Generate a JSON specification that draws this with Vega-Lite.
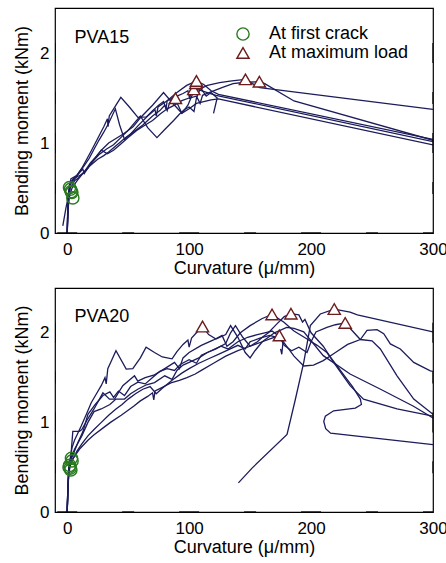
{
"$schema": "https://vega.github.io/schema/vega-lite/v6.json",
"padding": {"left": 12, "top": 7, "right": 0, "bottom": 0},
"spacing": 8,
"config": {
  "font": "Liberation Sans",
  "view": {"stroke": "black", "strokeWidth": 1.2},
  "axis": {"domain": false, "grid": false, "ticks": false, "labelFont": "Liberation Sans", "labelFontSize": 17, "labelColor": "black", "titleFont": "Liberation Sans", "titleFontSize": 18, "titleFontWeight": "normal", "titleColor": "black", "labelFlush": false, "labelOverlap": false}
},
"datasets": {
"tx": [{"v":0,"k":"M"},{"v":50,"k":"m"},{"v":100,"k":"M"},{"v":150,"k":"m"},{"v":200,"k":"M"},{"v":250,"k":"m"},{"v":300,"k":"M"}],
"ty": [{"v":0.5,"k":"m"},{"v":1,"k":"M"},{"v":1.5,"k":"m"},{"v":2,"k":"M"}],
"l15": [
{"s":1,"i":0,"x":0,"y":0},{"s":1,"i":1,"x":0.5,"y":0.15},{"s":1,"i":2,"x":1,"y":0.3},{"s":1,"i":3,"x":2,"y":0.42},{"s":1,"i":4,"x":4,"y":0.5},{"s":1,"i":5,"x":8,"y":0.58},{"s":1,"i":6,"x":12,"y":0.65},{"s":1,"i":7,"x":18,"y":0.74},{"s":1,"i":8,"x":25,"y":0.82},{"s":1,"i":9,"x":30,"y":0.86},{"s":1,"i":10,"x":34,"y":0.9},{"s":1,"i":11,"x":40,"y":0.97},{"s":1,"i":12,"x":48,"y":1.06},{"s":1,"i":13,"x":56,"y":1.14},{"s":1,"i":14,"x":62,"y":1.2},{"s":1,"i":15,"x":70,"y":1.3},{"s":1,"i":16,"x":76,"y":1.36},{"s":1,"i":17,"x":80,"y":1.42},{"s":1,"i":18,"x":82,"y":1.36},{"s":1,"i":19,"x":84,"y":1.45},{"s":1,"i":20,"x":88,"y":1.497},{"s":1,"i":21,"x":91,"y":1.42},{"s":1,"i":22,"x":94,"y":1.33},{"s":1,"i":23,"x":100,"y":1.38},{"s":1,"i":24,"x":106,"y":1.44},{"s":1,"i":25,"x":112,"y":1.46},{"s":1,"i":26,"x":118,"y":1.48},{"s":1,"i":27,"x":124,"y":1.49},{"s":1,"i":28,"x":300,"y":0.978},
{"s":2,"i":0,"x":0,"y":0},{"s":2,"i":1,"x":0.4,"y":0.2},{"s":2,"i":2,"x":1,"y":0.4},{"s":2,"i":3,"x":2,"y":0.52},{"s":2,"i":4,"x":4,"y":0.58},{"s":2,"i":5,"x":8,"y":0.64},{"s":2,"i":6,"x":12,"y":0.72},{"s":2,"i":7,"x":16,"y":0.82},{"s":2,"i":8,"x":20,"y":0.92},{"s":2,"i":9,"x":25,"y":1.05},{"s":2,"i":10,"x":30,"y":1.18},{"s":2,"i":11,"x":33,"y":1.27},{"s":2,"i":12,"x":33.5,"y":1.18},{"s":2,"i":13,"x":34.5,"y":1.3},{"s":2,"i":14,"x":40,"y":1.42},{"s":2,"i":15,"x":44,"y":1.507},{"s":2,"i":16,"x":51,"y":1.4},{"s":2,"i":17,"x":58,"y":1.285},{"s":2,"i":18,"x":65,"y":1.29},{"s":2,"i":19,"x":70,"y":1.36},{"s":2,"i":20,"x":75,"y":1.42},{"s":2,"i":21,"x":79,"y":1.46},{"s":2,"i":22,"x":81,"y":1.38},{"s":2,"i":23,"x":82,"y":1.47},{"s":2,"i":24,"x":90,"y":1.52},{"s":2,"i":25,"x":95,"y":1.55},{"s":2,"i":26,"x":99,"y":1.58},{"s":2,"i":27,"x":100.5,"y":1.49},{"s":2,"i":28,"x":101.5,"y":1.57},{"s":2,"i":29,"x":103.8,"y":1.596},{"s":2,"i":30,"x":108,"y":1.59},{"s":2,"i":31,"x":115,"y":1.56},{"s":2,"i":32,"x":122,"y":1.53},{"s":2,"i":33,"x":300,"y":1.015},
{"s":3,"i":0,"x":0,"y":0},{"s":3,"i":1,"x":0.5,"y":0.25},{"s":3,"i":2,"x":1.2,"y":0.45},{"s":3,"i":3,"x":3,"y":0.56},{"s":3,"i":4,"x":6,"y":0.6},{"s":3,"i":5,"x":10,"y":0.68},{"s":3,"i":6,"x":14,"y":0.75},{"s":3,"i":7,"x":18,"y":0.83},{"s":3,"i":8,"x":22,"y":0.93},{"s":3,"i":9,"x":26,"y":1.03},{"s":3,"i":10,"x":30,"y":1.12},{"s":3,"i":11,"x":34,"y":1.22},{"s":3,"i":12,"x":39.5,"y":1.38},{"s":3,"i":13,"x":43,"y":1.2},{"s":3,"i":14,"x":47,"y":1.04},{"s":3,"i":15,"x":52,"y":1.1},{"s":3,"i":16,"x":58,"y":1.19},{"s":3,"i":17,"x":66,"y":1.3},{"s":3,"i":18,"x":72,"y":1.37},{"s":3,"i":19,"x":73,"y":1.3},{"s":3,"i":20,"x":74.5,"y":1.4},{"s":3,"i":21,"x":82,"y":1.47},{"s":3,"i":22,"x":90,"y":1.56},{"s":3,"i":23,"x":98,"y":1.64},{"s":3,"i":24,"x":106,"y":1.69},{"s":3,"i":25,"x":112,"y":1.65},{"s":3,"i":26,"x":118,"y":1.58},{"s":3,"i":27,"x":124,"y":1.54},{"s":3,"i":28,"x":300,"y":1.04},
{"s":4,"i":0,"x":0,"y":0},{"s":4,"i":1,"x":0.3,"y":0.2},{"s":4,"i":2,"x":0.8,"y":0.4},{"s":4,"i":3,"x":2,"y":0.55},{"s":4,"i":4,"x":5,"y":0.6},{"s":4,"i":5,"x":9,"y":0.63},{"s":4,"i":6,"x":13,"y":0.66},{"s":4,"i":7,"x":17,"y":0.72},{"s":4,"i":8,"x":22,"y":0.82},{"s":4,"i":9,"x":28,"y":0.92},{"s":4,"i":10,"x":34,"y":1.0},{"s":4,"i":11,"x":40,"y":1.05},{"s":4,"i":12,"x":46,"y":1.1},{"s":4,"i":13,"x":54,"y":1.18},{"s":4,"i":14,"x":60,"y":1.28},{"s":4,"i":15,"x":70,"y":1.42},{"s":4,"i":16,"x":79,"y":1.56},{"s":4,"i":17,"x":86,"y":1.45},{"s":4,"i":18,"x":94,"y":1.33},{"s":4,"i":19,"x":99,"y":1.42},{"s":4,"i":20,"x":103,"y":1.55},{"s":4,"i":21,"x":105.5,"y":1.665},{"s":4,"i":22,"x":110,"y":1.6},{"s":4,"i":23,"x":114,"y":1.52},{"s":4,"i":24,"x":118,"y":1.56},{"s":4,"i":25,"x":123,"y":1.5},{"s":4,"i":26,"x":120,"y":1.33},
{"s":5,"i":0,"x":-3.6,"y":0.08},{"s":5,"i":1,"x":-1,"y":0.28},{"s":5,"i":2,"x":1.9,"y":0.47},{"s":5,"i":3,"x":3,"y":0.6},{"s":5,"i":4,"x":8,"y":0.64},{"s":5,"i":5,"x":12.8,"y":0.71},{"s":5,"i":6,"x":14,"y":0.66},{"s":5,"i":7,"x":16,"y":0.7},{"s":5,"i":8,"x":20,"y":0.78},{"s":5,"i":9,"x":26,"y":0.87},{"s":5,"i":10,"x":32,"y":0.93},{"s":5,"i":11,"x":38,"y":0.98},{"s":5,"i":12,"x":44,"y":1.06},{"s":5,"i":13,"x":50,"y":1.14},{"s":5,"i":14,"x":55,"y":1.22},{"s":5,"i":15,"x":60,"y":1.3},{"s":5,"i":16,"x":66,"y":1.17},{"s":5,"i":17,"x":73.6,"y":1.06},{"s":5,"i":18,"x":80,"y":1.15},{"s":5,"i":19,"x":87.3,"y":1.25},{"s":5,"i":20,"x":92,"y":1.32},{"s":5,"i":21,"x":96,"y":1.37},{"s":5,"i":22,"x":100,"y":1.4},{"s":5,"i":23,"x":104,"y":1.35},{"s":5,"i":24,"x":106,"y":1.5},{"s":5,"i":25,"x":109,"y":1.6},{"s":5,"i":26,"x":115,"y":1.64},{"s":5,"i":27,"x":125,"y":1.67},{"s":5,"i":28,"x":135,"y":1.69},{"s":5,"i":29,"x":146.2,"y":1.707},{"s":5,"i":30,"x":152,"y":1.66},{"s":5,"i":31,"x":158,"y":1.615},{"s":5,"i":32,"x":300,"y":1.374},
{"s":6,"i":0,"x":0,"y":0},{"s":6,"i":1,"x":0.5,"y":0.2},{"s":6,"i":2,"x":1,"y":0.38},{"s":6,"i":3,"x":2.5,"y":0.5},{"s":6,"i":4,"x":6,"y":0.58},{"s":6,"i":5,"x":10,"y":0.62},{"s":6,"i":6,"x":14,"y":0.68},{"s":6,"i":7,"x":19,"y":0.78},{"s":6,"i":8,"x":24,"y":0.85},{"s":6,"i":9,"x":28,"y":0.92},{"s":6,"i":10,"x":33,"y":0.88},{"s":6,"i":11,"x":38,"y":0.92},{"s":6,"i":12,"x":44,"y":0.99},{"s":6,"i":13,"x":50,"y":1.06},{"s":6,"i":14,"x":57,"y":1.14},{"s":6,"i":15,"x":64,"y":1.2},{"s":6,"i":16,"x":70,"y":1.25},{"s":6,"i":17,"x":76,"y":1.32},{"s":6,"i":18,"x":82,"y":1.38},{"s":6,"i":19,"x":88,"y":1.42},{"s":6,"i":20,"x":94,"y":1.47},{"s":6,"i":21,"x":100,"y":1.5},{"s":6,"i":22,"x":106,"y":1.52},{"s":6,"i":23,"x":109,"y":1.44},{"s":6,"i":24,"x":111,"y":1.53},{"s":6,"i":25,"x":120,"y":1.58},{"s":6,"i":26,"x":128,"y":1.62},{"s":6,"i":27,"x":136,"y":1.66},{"s":6,"i":28,"x":146,"y":1.675},{"s":6,"i":29,"x":157.6,"y":1.681},{"s":6,"i":30,"x":162,"y":1.66},{"s":6,"i":31,"x":186,"y":1.467},{"s":6,"i":32,"x":300,"y":1.03}
],
"m15": [
{"type":"At first crack","x":1.9,"y":0.505},{"type":"At first crack","x":2.7,"y":0.486},{"type":"At first crack","x":3.3,"y":0.46},{"type":"At first crack","x":3.8,"y":0.45},{"type":"At first crack","x":4.6,"y":0.39},
{"type":"At maximum load","x":88.8,"y":1.497},{"type":"At maximum load","x":103.8,"y":1.596},{"type":"At maximum load","x":105.5,"y":1.665},{"type":"At maximum load","x":106,"y":1.689},{"type":"At maximum load","x":146.2,"y":1.707},{"type":"At maximum load","x":157.6,"y":1.681}
],
"l20": [
{"s":1,"i":0,"x":0,"y":0},{"s":1,"i":1,"x":0.5,"y":0.2},{"s":1,"i":2,"x":1.2,"y":0.45},{"s":1,"i":3,"x":2.5,"y":0.6},{"s":1,"i":4,"x":4,"y":0.72},{"s":1,"i":5,"x":6,"y":0.8},{"s":1,"i":6,"x":11.5,"y":0.96},{"s":1,"i":7,"x":16,"y":1.1},{"s":1,"i":8,"x":19.7,"y":1.22},{"s":1,"i":9,"x":24,"y":1.32},{"s":1,"i":10,"x":27.9,"y":1.41},{"s":1,"i":11,"x":31,"y":1.5},{"s":1,"i":12,"x":32,"y":1.43},{"s":1,"i":13,"x":33.3,"y":1.6},{"s":1,"i":14,"x":36,"y":1.68},{"s":1,"i":15,"x":40,"y":1.8},{"s":1,"i":16,"x":48.4,"y":1.595},{"s":1,"i":17,"x":53.8,"y":1.6},{"s":1,"i":18,"x":60,"y":1.72},{"s":1,"i":19,"x":64.7,"y":1.84},{"s":1,"i":20,"x":71.6,"y":1.78},{"s":1,"i":21,"x":78,"y":1.73},{"s":1,"i":22,"x":86,"y":1.71},{"s":1,"i":23,"x":90,"y":1.79},{"s":1,"i":24,"x":95,"y":1.87},{"s":1,"i":25,"x":99,"y":1.92},{"s":1,"i":26,"x":100,"y":1.84},{"s":1,"i":27,"x":102,"y":1.94},{"s":1,"i":28,"x":106,"y":2.0},{"s":1,"i":29,"x":111,"y":2.07},{"s":1,"i":30,"x":116,"y":1.98},{"s":1,"i":31,"x":122,"y":1.93},{"s":1,"i":32,"x":130,"y":1.98},{"s":1,"i":33,"x":134,"y":2.08},{"s":1,"i":34,"x":140,"y":1.95},{"s":1,"i":35,"x":146,"y":1.78},{"s":1,"i":36,"x":150,"y":1.72},{"s":1,"i":37,"x":154,"y":1.8},{"s":1,"i":38,"x":160,"y":1.9},{"s":1,"i":39,"x":170,"y":2.0},{"s":1,"i":40,"x":180,"y":2.06},{"s":1,"i":41,"x":186,"y":2.05},{"s":1,"i":42,"x":194,"y":2.01},{"s":1,"i":43,"x":210,"y":1.745},{"s":1,"i":44,"x":232,"y":1.54},{"s":1,"i":45,"x":257,"y":1.37},{"s":1,"i":46,"x":284,"y":1.18},{"s":1,"i":47,"x":300,"y":1.05},
{"s":2,"i":0,"x":0,"y":0},{"s":2,"i":1,"x":0.5,"y":0.2},{"s":2,"i":2,"x":1.5,"y":0.5},{"s":2,"i":3,"x":3,"y":0.62},{"s":2,"i":4,"x":4.6,"y":0.9},{"s":2,"i":5,"x":10,"y":0.9},{"s":2,"i":6,"x":12,"y":0.92},{"s":2,"i":7,"x":16,"y":1.02},{"s":2,"i":8,"x":22,"y":1.15},{"s":2,"i":9,"x":29.3,"y":1.33},{"s":2,"i":10,"x":34.7,"y":1.26},{"s":2,"i":11,"x":38.8,"y":1.26},{"s":2,"i":12,"x":45.6,"y":1.41},{"s":2,"i":13,"x":55.2,"y":1.52},{"s":2,"i":14,"x":57.9,"y":1.46},{"s":2,"i":15,"x":64,"y":1.5},{"s":2,"i":16,"x":71.6,"y":1.53},{"s":2,"i":17,"x":80,"y":1.6},{"s":2,"i":18,"x":88,"y":1.67},{"s":2,"i":19,"x":92,"y":1.6},{"s":2,"i":20,"x":95,"y":1.72},{"s":2,"i":21,"x":100,"y":1.78},{"s":2,"i":22,"x":110,"y":1.86},{"s":2,"i":23,"x":120,"y":1.92},{"s":2,"i":24,"x":127,"y":1.97},{"s":2,"i":25,"x":131,"y":1.85},{"s":2,"i":26,"x":136,"y":1.9},{"s":2,"i":27,"x":142,"y":2.0},{"s":2,"i":28,"x":150,"y":2.08},{"s":2,"i":29,"x":160,"y":2.16},{"s":2,"i":30,"x":168,"y":2.205},{"s":2,"i":31,"x":177.5,"y":2.12},{"s":2,"i":32,"x":186,"y":2.02},{"s":2,"i":33,"x":196.7,"y":1.93},{"s":2,"i":34,"x":205,"y":1.86},{"s":2,"i":35,"x":213,"y":1.78},{"s":2,"i":36,"x":221.3,"y":1.63},{"s":2,"i":37,"x":229.5,"y":1.48},{"s":2,"i":38,"x":234,"y":1.4},{"s":2,"i":39,"x":240.4,"y":1.26},{"s":2,"i":40,"x":241.3,"y":1.2},{"s":2,"i":41,"x":236.3,"y":1.16},{"s":2,"i":42,"x":218.5,"y":1.13},{"s":2,"i":43,"x":211.7,"y":1.07},{"s":2,"i":44,"x":210.4,"y":1.01},{"s":2,"i":45,"x":212,"y":0.93},{"s":2,"i":46,"x":216,"y":0.88},{"s":2,"i":47,"x":300,"y":0.753},
{"s":3,"i":0,"x":0,"y":0},{"s":3,"i":1,"x":0.4,"y":0.2},{"s":3,"i":2,"x":1,"y":0.4},{"s":3,"i":3,"x":2,"y":0.5},{"s":3,"i":4,"x":4,"y":0.58},{"s":3,"i":5,"x":6,"y":0.62},{"s":3,"i":6,"x":10,"y":0.7},{"s":3,"i":7,"x":17,"y":0.8},{"s":3,"i":8,"x":21.8,"y":0.86},{"s":3,"i":9,"x":30.6,"y":0.95},{"s":3,"i":10,"x":35.5,"y":1.0},{"s":3,"i":11,"x":44.3,"y":1.08},{"s":3,"i":12,"x":54.5,"y":1.18},{"s":3,"i":13,"x":60,"y":1.24},{"s":3,"i":14,"x":66,"y":1.29},{"s":3,"i":15,"x":70,"y":1.33},{"s":3,"i":16,"x":71,"y":1.25},{"s":3,"i":17,"x":72,"y":1.35},{"s":3,"i":18,"x":76.4,"y":1.38},{"s":3,"i":19,"x":85,"y":1.44},{"s":3,"i":20,"x":92,"y":1.47},{"s":3,"i":21,"x":98.2,"y":1.5},{"s":3,"i":22,"x":105,"y":1.54},{"s":3,"i":23,"x":110,"y":1.58},{"s":3,"i":24,"x":120,"y":1.66},{"s":3,"i":25,"x":130,"y":1.74},{"s":3,"i":26,"x":140,"y":1.8},{"s":3,"i":27,"x":150,"y":1.85},{"s":3,"i":28,"x":160,"y":1.9},{"s":3,"i":29,"x":168,"y":1.94},{"s":3,"i":30,"x":174,"y":1.97},{"s":3,"i":31,"x":177,"y":1.9},{"s":3,"i":32,"x":176,"y":1.76},{"s":3,"i":33,"x":175,"y":1.82},
{"s":4,"i":0,"x":0,"y":0},{"s":4,"i":1,"x":0.5,"y":0.25},{"s":4,"i":2,"x":1.5,"y":0.5},{"s":4,"i":3,"x":3,"y":0.6},{"s":4,"i":4,"x":6,"y":0.7},{"s":4,"i":5,"x":12,"y":0.85},{"s":4,"i":6,"x":17,"y":1.0},{"s":4,"i":7,"x":22,"y":1.12},{"s":4,"i":8,"x":27.9,"y":1.15},{"s":4,"i":9,"x":35,"y":1.2},{"s":4,"i":10,"x":40,"y":1.26},{"s":4,"i":11,"x":47,"y":1.26},{"s":4,"i":12,"x":52,"y":1.32},{"s":4,"i":13,"x":57.9,"y":1.37},{"s":4,"i":14,"x":65,"y":1.42},{"s":4,"i":15,"x":71.6,"y":1.445},{"s":4,"i":16,"x":80,"y":1.52},{"s":4,"i":17,"x":86,"y":1.48},{"s":4,"i":18,"x":90,"y":1.58},{"s":4,"i":19,"x":95,"y":1.64},{"s":4,"i":20,"x":100,"y":1.67},{"s":4,"i":21,"x":108,"y":1.72},{"s":4,"i":22,"x":115,"y":1.78},{"s":4,"i":23,"x":122,"y":1.82},{"s":4,"i":24,"x":130,"y":1.88},{"s":4,"i":25,"x":134,"y":2.0},{"s":4,"i":26,"x":138,"y":2.08},{"s":4,"i":27,"x":144,"y":1.95},{"s":4,"i":28,"x":150,"y":1.85},{"s":4,"i":29,"x":156,"y":1.9},{"s":4,"i":30,"x":160,"y":1.95},{"s":4,"i":31,"x":165,"y":2.0},{"s":4,"i":32,"x":172,"y":2.1},{"s":4,"i":33,"x":178,"y":2.18},{"s":4,"i":34,"x":183.5,"y":2.213},{"s":4,"i":35,"x":190,"y":2.2},{"s":4,"i":36,"x":193,"y":2.12},{"s":4,"i":37,"x":195,"y":2.15},{"s":4,"i":38,"x":200,"y":2.0},{"s":4,"i":39,"x":210,"y":1.85},{"s":4,"i":40,"x":218.5,"y":1.67},{"s":4,"i":41,"x":232,"y":1.41},{"s":4,"i":42,"x":243,"y":1.26},{"s":4,"i":43,"x":270.5,"y":1.15},{"s":4,"i":44,"x":300,"y":1.07},
{"s":5,"i":0,"x":140.4,"y":0.325},{"s":5,"i":1,"x":151.6,"y":0.49},{"s":5,"i":2,"x":180.3,"y":0.865},{"s":5,"i":3,"x":187,"y":1.25},{"s":5,"i":4,"x":194,"y":1.67},{"s":5,"i":5,"x":199.4,"y":2.08},{"s":5,"i":6,"x":207.6,"y":2.21},{"s":5,"i":7,"x":219,"y":2.265},{"s":5,"i":8,"x":232,"y":2.23},{"s":5,"i":9,"x":238,"y":2.2},{"s":5,"i":10,"x":300,"y":2.01},
{"s":6,"i":0,"x":0,"y":0},{"s":6,"i":1,"x":0.5,"y":0.22},{"s":6,"i":2,"x":1.3,"y":0.48},{"s":6,"i":3,"x":3,"y":0.58},{"s":6,"i":4,"x":6,"y":0.68},{"s":6,"i":5,"x":9,"y":0.78},{"s":6,"i":6,"x":13,"y":0.9},{"s":6,"i":7,"x":17,"y":1.09},{"s":6,"i":8,"x":23,"y":1.2},{"s":6,"i":9,"x":29.3,"y":1.3},{"s":6,"i":10,"x":35,"y":1.34},{"s":6,"i":11,"x":38,"y":1.28},{"s":6,"i":12,"x":42,"y":1.35},{"s":6,"i":13,"x":47,"y":1.3},{"s":6,"i":14,"x":52,"y":1.4},{"s":6,"i":15,"x":58,"y":1.45},{"s":6,"i":16,"x":64,"y":1.43},{"s":6,"i":17,"x":70,"y":1.5},{"s":6,"i":18,"x":76,"y":1.57},{"s":6,"i":19,"x":82,"y":1.6},{"s":6,"i":20,"x":88,"y":1.58},{"s":6,"i":21,"x":93,"y":1.65},{"s":6,"i":22,"x":100,"y":1.7},{"s":6,"i":23,"x":106,"y":1.66},{"s":6,"i":24,"x":110,"y":1.75},{"s":6,"i":25,"x":118,"y":1.8},{"s":6,"i":26,"x":126,"y":1.85},{"s":6,"i":27,"x":132,"y":1.82},{"s":6,"i":28,"x":140,"y":1.9},{"s":6,"i":29,"x":148,"y":1.95},{"s":6,"i":30,"x":156,"y":1.98},{"s":6,"i":31,"x":162,"y":2.0},{"s":6,"i":32,"x":168,"y":2.02},{"s":6,"i":33,"x":174,"y":1.96},{"s":6,"i":34,"x":178,"y":1.86},{"s":6,"i":35,"x":184,"y":1.8},{"s":6,"i":36,"x":190,"y":1.84},{"s":6,"i":37,"x":196.7,"y":1.78},{"s":6,"i":38,"x":200,"y":1.9},{"s":6,"i":39,"x":204,"y":2.01},{"s":6,"i":40,"x":213,"y":2.06},{"s":6,"i":41,"x":220,"y":2.09},{"s":6,"i":42,"x":228,"y":2.11},{"s":6,"i":43,"x":240.4,"y":1.925},{"s":6,"i":44,"x":250,"y":1.91},{"s":6,"i":45,"x":256.8,"y":1.82},{"s":6,"i":46,"x":270.5,"y":1.52},{"s":6,"i":47,"x":284.2,"y":1.26},{"s":6,"i":48,"x":300,"y":1.09},
{"s":7,"i":0,"x":0,"y":0},{"s":7,"i":1,"x":0.4,"y":0.2},{"s":7,"i":2,"x":1.2,"y":0.42},{"s":7,"i":3,"x":2.5,"y":0.52},{"s":7,"i":4,"x":5,"y":0.6},{"s":7,"i":5,"x":8,"y":0.68},{"s":7,"i":6,"x":12,"y":0.76},{"s":7,"i":7,"x":17,"y":0.85},{"s":7,"i":8,"x":22,"y":0.92},{"s":7,"i":9,"x":28,"y":1.0},{"s":7,"i":10,"x":34,"y":1.08},{"s":7,"i":11,"x":40,"y":1.15},{"s":7,"i":12,"x":45,"y":1.2},{"s":7,"i":13,"x":50,"y":1.26},{"s":7,"i":14,"x":56,"y":1.32},{"s":7,"i":15,"x":62,"y":1.37},{"s":7,"i":16,"x":68,"y":1.4},{"s":7,"i":17,"x":73,"y":1.32},{"s":7,"i":18,"x":78,"y":1.38},{"s":7,"i":19,"x":86,"y":1.47},{"s":7,"i":20,"x":94,"y":1.55},{"s":7,"i":21,"x":100,"y":1.6},{"s":7,"i":22,"x":108,"y":1.66},{"s":7,"i":23,"x":116,"y":1.71},{"s":7,"i":24,"x":124,"y":1.76},{"s":7,"i":25,"x":132,"y":1.81},{"s":7,"i":26,"x":140,"y":1.86},{"s":7,"i":27,"x":146,"y":1.82},{"s":7,"i":28,"x":150,"y":1.9},{"s":7,"i":29,"x":158,"y":1.94},{"s":7,"i":30,"x":166,"y":1.97},{"s":7,"i":31,"x":172,"y":1.95},{"s":7,"i":32,"x":177.5,"y":1.895},{"s":7,"i":33,"x":186,"y":1.74},{"s":7,"i":34,"x":194,"y":1.63},{"s":7,"i":35,"x":202,"y":1.64},{"s":7,"i":36,"x":210,"y":1.69},{"s":7,"i":37,"x":220,"y":1.78},{"s":7,"i":38,"x":230,"y":1.87},{"s":7,"i":39,"x":240.4,"y":1.925},{"s":7,"i":40,"x":245.9,"y":2.026},{"s":7,"i":41,"x":254.1,"y":2.036},{"s":7,"i":42,"x":259.6,"y":1.99},{"s":7,"i":43,"x":265,"y":1.876},{"s":7,"i":44,"x":273.2,"y":1.82},{"s":7,"i":45,"x":284.2,"y":1.67},{"s":7,"i":46,"x":297.8,"y":1.576},{"s":7,"i":47,"x":300,"y":1.57}
],
"m20": [
{"type":"At first crack","x":1.5,"y":0.5},{"type":"At first crack","x":2,"y":0.52},{"type":"At first crack","x":2.5,"y":0.49},{"type":"At first crack","x":3,"y":0.47},{"type":"At first crack","x":3.5,"y":0.6},{"type":"At first crack","x":4,"y":0.57},
{"type":"At maximum load","x":111,"y":2.07},{"type":"At maximum load","x":168,"y":2.205},{"type":"At maximum load","x":174,"y":1.97},{"type":"At maximum load","x":183.5,"y":2.213},{"type":"At maximum load","x":219,"y":2.265},{"type":"At maximum load","x":228,"y":2.11}
],
"t15": [{"x": 6, "y": 2.114, "t": "PVA15"}],
"t20": [{"x": 6, "y": 2.12, "t": "PVA20"}]
},
"resolve": {"scale": {"shape": "independent", "stroke": "independent", "fill": "independent", "size": "independent"}},
"vconcat": [
{
  "width": 378, "height": 225,
  "resolve": {"axis": {"x": "independent", "y": "independent"}},
  "layer": [
    {"data": {"name": "l15"}, "mark": {"type": "line", "color": "#1c1c5c", "strokeWidth": 1.3, "clip": true},
     "encoding": {
       "x": {"field": "x", "type": "quantitative", "scale": {"domain": [-10, 300], "nice": false, "zero": false},
             "axis": {"orient": "bottom", "values": [0, 100, 200, 300], "format": "d", "labelPadding": 8, "title": "Curvature (μ/mm)", "titlePadding": 2.5}},
       "y": {"field": "y", "type": "quantitative", "scale": {"domain": [0, 2.5], "nice": false, "zero": false},
             "axis": {"orient": "left", "values": [0, 1, 2], "format": "d", "labelPadding": 6, "title": "Bending moment (kNm)", "titlePadding": 8}},
       "detail": {"field": "s"},
       "order": {"field": "i", "type": "quantitative"}
     }},
    {"data": {"name": "tx"}, "mark": {"type": "tick", "orient": "horizontal", "clip": true, "color": "black", "thickness": 1.3, "opacity": 1},
     "encoding": {"x": {"field": "v", "type": "quantitative", "axis": null}, "y": {"datum": 0, "type": "quantitative", "axis": null},
                  "size": {"field": "k", "type": "ordinal", "scale": {"domain": ["M", "m"], "range": [20, 12]}, "legend": null}}},
    {"data": {"name": "tx"}, "mark": {"type": "tick", "orient": "horizontal", "clip": true, "color": "black", "thickness": 1.3, "opacity": 1},
     "encoding": {"x": {"field": "v", "type": "quantitative", "axis": null}, "y": {"datum": 2.5, "type": "quantitative", "axis": null},
                  "size": {"field": "k", "type": "ordinal", "scale": {"domain": ["M", "m"], "range": [20, 12]}, "legend": null}}},
    {"data": {"name": "ty"}, "mark": {"type": "tick", "orient": "vertical", "clip": true, "color": "black", "thickness": 1.3, "opacity": 1},
     "encoding": {"y": {"field": "v", "type": "quantitative", "axis": null}, "x": {"datum": -10, "type": "quantitative", "axis": null},
                  "size": {"field": "k", "type": "ordinal", "scale": {"domain": ["M", "m"], "range": [20, 12]}, "legend": null}}},
    {"data": {"name": "ty"}, "mark": {"type": "tick", "orient": "vertical", "clip": true, "color": "black", "thickness": 1.3, "opacity": 1},
     "encoding": {"y": {"field": "v", "type": "quantitative", "axis": null}, "x": {"datum": 300, "type": "quantitative", "axis": null},
                  "size": {"field": "k", "type": "ordinal", "scale": {"domain": ["M", "m"], "range": [20, 12]}, "legend": null}}},
    {"data": {"name": "m15"}, "mark": {"type": "point", "size": 150, "strokeWidth": 1.4, "opacity": 1},
     "encoding": {
       "x": {"field": "x", "type": "quantitative", "axis": null},
       "y": {"field": "y", "type": "quantitative", "axis": null},
       "shape": {"field": "type", "type": "nominal", "scale": {"domain": ["At first crack", "At maximum load"], "range": ["circle", "triangle-up"]},
                 "legend": {"orient": "none", "legendX": 179, "legendY": 17, "direction": "vertical", "title": null, "padding": 0, "labelFont": "Liberation Sans", "labelFontSize": 18, "labelColor": "black", "symbolSize": 150, "symbolStrokeWidth": 1.4, "labelOffset": 17, "rowPadding": 1}},
       "stroke": {"field": "type", "type": "nominal", "scale": {"domain": ["At first crack", "At maximum load"], "range": ["#2a7a1f", "#6b1d1d"]},
                 "legend": {"orient": "none", "legendX": 179, "legendY": 17, "direction": "vertical", "title": null, "padding": 0, "labelFont": "Liberation Sans", "labelFontSize": 18, "labelColor": "black", "symbolSize": 150, "symbolStrokeWidth": 1.4, "labelOffset": 17, "rowPadding": 1}},
       "fill": {"field": "type", "type": "nominal", "scale": {"domain": ["At first crack", "At maximum load"], "range": ["transparent", "white"]},
                 "legend": {"orient": "none", "legendX": 179, "legendY": 17, "direction": "vertical", "title": null, "padding": 0, "labelFont": "Liberation Sans", "labelFontSize": 18, "labelColor": "black", "symbolSize": 150, "symbolStrokeWidth": 1.4, "labelOffset": 17, "rowPadding": 1}}
     }},
    {"data": {"name": "t15"}, "mark": {"type": "text", "align": "left", "baseline": "alphabetic", "fontSize": 18, "font": "Liberation Sans", "color": "black"},
     "encoding": {"x": {"field": "x", "type": "quantitative", "axis": null}, "y": {"field": "y", "type": "quantitative", "axis": null}, "text": {"field": "t"}}}
  ]
},
{
  "width": 378, "height": 224,
  "resolve": {"axis": {"x": "independent", "y": "independent"}},
  "layer": [
    {"data": {"name": "l20"}, "mark": {"type": "line", "color": "#1c1c5c", "strokeWidth": 1.3, "clip": true},
     "encoding": {
       "x": {"field": "x", "type": "quantitative", "scale": {"domain": [-10, 300], "nice": false, "zero": false},
             "axis": {"orient": "bottom", "values": [0, 100, 200, 300], "format": "d", "labelPadding": 8, "title": "Curvature (μ/mm)", "titlePadding": 2.5}},
       "y": {"field": "y", "type": "quantitative", "scale": {"domain": [0, 2.5], "nice": false, "zero": false},
             "axis": {"orient": "left", "values": [0, 1, 2], "format": "d", "labelPadding": 6, "title": "Bending moment (kNm)", "titlePadding": 8}},
       "detail": {"field": "s"},
       "order": {"field": "i", "type": "quantitative"}
     }},
    {"data": {"name": "tx"}, "mark": {"type": "tick", "orient": "horizontal", "clip": true, "color": "black", "thickness": 1.3, "opacity": 1},
     "encoding": {"x": {"field": "v", "type": "quantitative", "axis": null}, "y": {"datum": 0, "type": "quantitative", "axis": null},
                  "size": {"field": "k", "type": "ordinal", "scale": {"domain": ["M", "m"], "range": [20, 12]}, "legend": null}}},
    {"data": {"name": "tx"}, "mark": {"type": "tick", "orient": "horizontal", "clip": true, "color": "black", "thickness": 1.3, "opacity": 1},
     "encoding": {"x": {"field": "v", "type": "quantitative", "axis": null}, "y": {"datum": 2.5, "type": "quantitative", "axis": null},
                  "size": {"field": "k", "type": "ordinal", "scale": {"domain": ["M", "m"], "range": [20, 12]}, "legend": null}}},
    {"data": {"name": "ty"}, "mark": {"type": "tick", "orient": "vertical", "clip": true, "color": "black", "thickness": 1.3, "opacity": 1},
     "encoding": {"y": {"field": "v", "type": "quantitative", "axis": null}, "x": {"datum": -10, "type": "quantitative", "axis": null},
                  "size": {"field": "k", "type": "ordinal", "scale": {"domain": ["M", "m"], "range": [20, 12]}, "legend": null}}},
    {"data": {"name": "ty"}, "mark": {"type": "tick", "orient": "vertical", "clip": true, "color": "black", "thickness": 1.3, "opacity": 1},
     "encoding": {"y": {"field": "v", "type": "quantitative", "axis": null}, "x": {"datum": 300, "type": "quantitative", "axis": null},
                  "size": {"field": "k", "type": "ordinal", "scale": {"domain": ["M", "m"], "range": [20, 12]}, "legend": null}}},
    {"data": {"name": "m20"}, "mark": {"type": "point", "size": 150, "strokeWidth": 1.4, "opacity": 1},
     "encoding": {
       "x": {"field": "x", "type": "quantitative", "axis": null},
       "y": {"field": "y", "type": "quantitative", "axis": null},
       "shape": {"field": "type", "type": "nominal", "scale": {"domain": ["At first crack", "At maximum load"], "range": ["circle", "triangle-up"]}, "legend": null},
       "stroke": {"field": "type", "type": "nominal", "scale": {"domain": ["At first crack", "At maximum load"], "range": ["#2a7a1f", "#6b1d1d"]}, "legend": null},
       "fill": {"field": "type", "type": "nominal", "scale": {"domain": ["At first crack", "At maximum load"], "range": ["transparent", "white"]}, "legend": null}
     }},
    {"data": {"name": "t20"}, "mark": {"type": "text", "align": "left", "baseline": "alphabetic", "fontSize": 18, "font": "Liberation Sans", "color": "black"},
     "encoding": {"x": {"field": "x", "type": "quantitative", "axis": null}, "y": {"field": "y", "type": "quantitative", "axis": null}, "text": {"field": "t"}}}
  ]
}
]
}
